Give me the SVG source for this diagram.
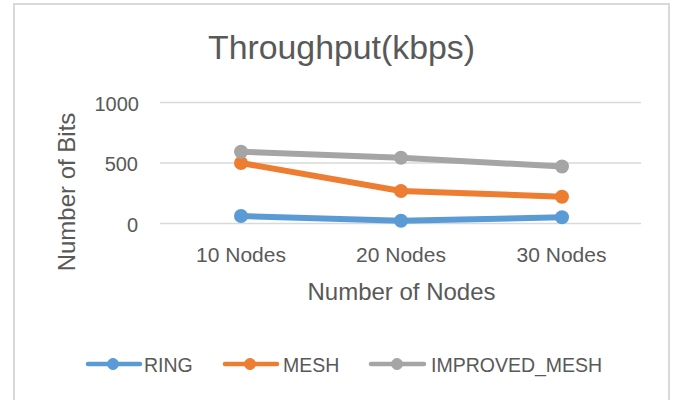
<svg xmlns="http://www.w3.org/2000/svg" width="676" height="400" viewBox="0 0 676 400">
<style>
text{font-family:"Liberation Sans",Arial,sans-serif;fill:#595959}
.grid{stroke:#D9D9D9;stroke-width:1.5;fill:none}
.tick{font-size:20px;text-anchor:end}
.cat{font-size:21px;text-anchor:middle}
.leg{font-size:19.5px}
.ring{stroke:#5B9BD5;fill:#5B9BD5}
.mesh{stroke:#ED7D31;fill:#ED7D31}
.imp{stroke:#A5A5A5;fill:#A5A5A5}
.series polyline{fill:none;stroke-width:6;stroke-linejoin:round;stroke-linecap:round}
.series circle{stroke:none}
.legline{stroke-width:4.5;stroke-linecap:round}
</style>
<rect x="0" y="0" width="676" height="400" fill="#FFFFFF"/>
<rect id="border" x="14" y="4" width="655" height="420" fill="#FFFFFF" stroke="#D9D9D9" stroke-width="2"/>
<text id="title" x="341.5" y="59" font-size="34" text-anchor="middle" textLength="267" lengthAdjust="spacingAndGlyphs">Throughput(kbps)</text>
<g id="gridlines">
<line class="grid" x1="160" y1="102.5" x2="641" y2="102.5"/>
<line class="grid" x1="160" y1="163" x2="641" y2="163"/>
<line class="grid" x1="160" y1="223.5" x2="641" y2="223.5"/>
</g>
<g id="y-axis">
<text class="tick" x="139" y="110.5">1000</text>
<text class="tick" x="138" y="171">500</text>
<text class="tick" x="138" y="231.5">0</text>
<text id="y-title" transform="translate(74.5,192) rotate(-90)" font-size="24" text-anchor="middle">Number of Bits</text>
</g>
<g id="x-axis">
<text class="cat" x="241" y="261.5">10 Nodes</text>
<text class="cat" x="401" y="261.5">20 Nodes</text>
<text class="cat" x="561.5" y="261.5">30 Nodes</text>
<text id="x-title" x="401.5" y="300" font-size="24" text-anchor="middle">Number of Nodes</text>
</g>
<g id="series-ring" class="series ring">
<polyline points="241,216 401,220.7 562,217.3"/>
<circle cx="241" cy="216" r="7"/><circle cx="401" cy="220.7" r="7"/><circle cx="562" cy="217.3" r="7"/>
</g>
<g id="series-mesh" class="series mesh">
<polyline points="241,163 401,191 562,196.7"/>
<circle cx="241" cy="163" r="7"/><circle cx="401" cy="191" r="7"/><circle cx="562" cy="196.7" r="7"/>
</g>
<g id="series-improved" class="series imp">
<polyline points="241,151.7 401,157.7 562,166.5"/>
<circle cx="241" cy="151.7" r="7"/><circle cx="401" cy="157.7" r="7"/><circle cx="562" cy="166.5" r="7"/>
</g>
<g id="legend">
<g id="legend-ring">
<line class="legline ring" x1="88" y1="364" x2="140" y2="364"/><circle class="ring" cx="113" cy="364" r="5.5"/>
<text class="leg" x="144" y="371.5">RING</text>
</g>
<g id="legend-mesh">
<line class="legline mesh" x1="225" y1="364" x2="277" y2="364"/><circle class="mesh" cx="250" cy="364" r="5.5"/>
<text class="leg" x="283" y="371.5">MESH</text>
</g>
<g id="legend-improved">
<line class="legline imp" x1="371" y1="364" x2="424" y2="364"/><circle class="imp" cx="397" cy="364" r="5.5"/>
<text class="leg" x="431" y="371.5">IMPROVED_MESH</text>
</g>
</g>
</svg>
